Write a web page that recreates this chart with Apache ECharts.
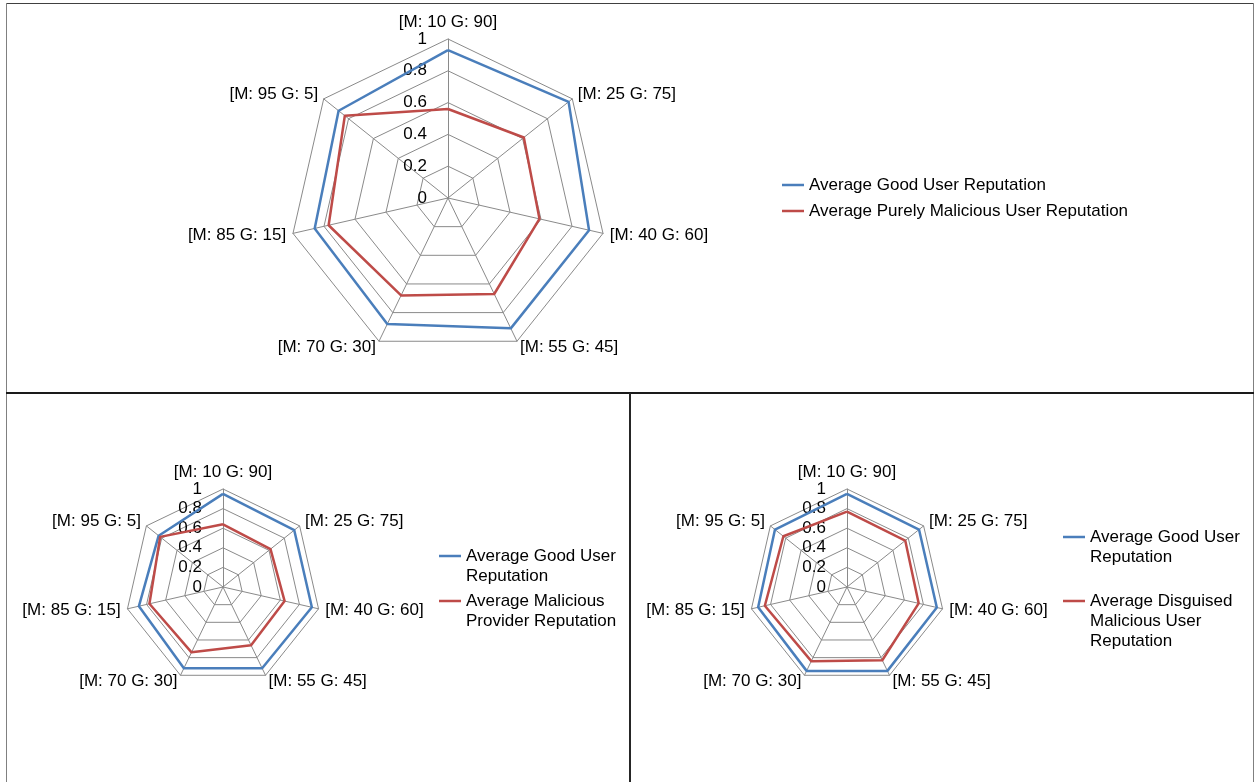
<!DOCTYPE html>
<html>
<head>
<meta charset="utf-8">
<script src="https://cdn.jsdelivr.net/npm/echarts@6/dist/echarts.min.js"></script>
<style>
  html, body { margin: 0; padding: 0; background: #fff; }
  #chart { width: 1254px; height: 782px; }
</style>
</head>
<body>
<div id="chart"></div>
<script>
// Mix of malicious (M) and good (G) users per scenario, clockwise from the top
const categories = ['[M: 10 G: 90]', '[M: 25 G: 75]', '[M: 40 G: 60]', '[M: 55 G: 45]',
                    '[M: 70 G: 30]', '[M: 85 G: 15]', '[M: 95 G: 5]'];
const tickValues = [0, 0.2, 0.4, 0.6, 0.8, 1];

// Panel 1: good users vs purely malicious users
const goodVsPurely = [0.93, 0.97, 0.91, 0.91, 0.88, 0.86, 0.88];
const purelyMalicious = [0.56, 0.61, 0.59, 0.67, 0.68, 0.77, 0.83];

// Panel 2: good users vs malicious providers
const goodVsProvider = [0.95, 0.93, 0.93, 0.92, 0.92, 0.88, 0.84];
const maliciousProvider = [0.64, 0.62, 0.645, 0.66, 0.74, 0.77, 0.82];

// Panel 3: good users vs disguised malicious users
const goodVsDisguised = [0.95, 0.94, 0.94, 0.95, 0.95, 0.93, 0.94];
const disguisedMalicious = [0.77, 0.76, 0.75, 0.83, 0.84, 0.86, 0.83];

const GOOD = 'Average Good User Reputation';
const PURELY = 'Average Purely Malicious User Reputation';
const PROVIDER = 'Average Malicious Provider Reputation';
const DISGUISED = 'Average Disguised Malicious User Reputation';

const BLUE = '#4a7ebb';
const RED = '#be4b48';
const GRID = '#8a8a8a';
const FONT = '"Liberation Sans", Arial, sans-serif';
const FS = 17;
const LH = 20;

// ECharts places radar indicators counter-clockwise; flip the tail so they run clockwise.
function cw(arr) { return [arr[0]].concat(arr.slice(1).reverse()); }

function radarAt(cx, cy, r) {
  const max = tickValues[tickValues.length - 1];
  return {
    center: [cx, cy],
    radius: r,
    startAngle: 90,
    shape: 'polygon',
    splitNumber: tickValues.length - 1,
    indicator: cw(categories).map((name, i) => (
      i === 0 ? { name, min: 0, max, axisLabel: { show: true } } : { name, min: 0, max }
    )),
    axisName: { color: '#000', fontSize: FS, fontFamily: FONT },
    axisNameGap: 7,
    axisLine: { lineStyle: { color: GRID, width: 1 } },
    splitLine: { lineStyle: { color: GRID, width: 1 } },
    splitArea: { show: false },
    axisTick: { show: false },
    axisLabel: { show: false, color: '#000', fontSize: FS, fontFamily: FONT, margin: 21 }
  };
}

function radarSeries(radarIndex, name, values, color) {
  return {
    type: 'radar',
    radarIndex,
    symbol: 'none',
    silent: true,
    lineStyle: { color, width: 2.5 },
    itemStyle: { color },
    data: [{ name, value: cw(values) }]
  };
}

// One legend per entry so the swatch sits level with the first text line.
function legendEntry(name, lines, color, textX, iconY) {
  const h = lines.length * LH;
  const icon = 'path://M0,0L0,0M0,' + (LH / 2 - 1.25) + 'H22V' + (LH / 2 + 1.25) +
               'H0ZM0,' + h + 'L0,' + h;
  return {
    left: textX - 27,
    top: iconY - LH / 2,
    padding: 0,
    orient: 'vertical',
    itemWidth: 22,
    itemHeight: h,
    icon,
    selectedMode: false,
    data: [{ name, itemStyle: { color, borderWidth: 0, borderColor: 'transparent' } }],
    formatter: () => lines.join('\n'),
    textStyle: { color: '#000', fontSize: FS, fontFamily: FONT, lineHeight: LH }
  };
}

const chart = echarts.init(document.getElementById('chart'), null, { renderer: 'canvas' });

chart.setOption({
  backgroundColor: '#fff',
  animation: false,
  textStyle: { fontFamily: FONT },
  radar: [
    radarAt(448, 198, 159),
    radarAt(223, 587, 98),
    radarAt(847, 587, 98)
  ],
  series: [
    radarSeries(0, GOOD, goodVsPurely, BLUE),
    radarSeries(0, PURELY, purelyMalicious, RED),
    radarSeries(1, GOOD, goodVsProvider, BLUE),
    radarSeries(1, PROVIDER, maliciousProvider, RED),
    radarSeries(2, GOOD, goodVsDisguised, BLUE),
    radarSeries(2, DISGUISED, disguisedMalicious, RED)
  ],
  legend: [
    legendEntry(GOOD, [GOOD], BLUE, 809, 185),
    legendEntry(PURELY, [PURELY], RED, 809, 211),
    legendEntry(GOOD, ['Average Good User', 'Reputation'], BLUE, 466, 556),
    legendEntry(PROVIDER, ['Average Malicious', 'Provider Reputation'], RED, 466, 601),
    legendEntry(GOOD, ['Average Good User', 'Reputation'], BLUE, 1090, 537),
    legendEntry(DISGUISED, ['Average Disguised', 'Malicious User', 'Reputation'], RED, 1090, 601)
  ],
  graphic: [
    // panel frame and dividers
    { type: 'line', silent: true, shape: { x1: 6, y1: 3.5, x2: 1254, y2: 3.5 }, style: { stroke: '#404040', lineWidth: 1 } },
    { type: 'line', silent: true, shape: { x1: 6.5, y1: 3, x2: 6.5, y2: 782 }, style: { stroke: '#808080', lineWidth: 1 } },
    { type: 'line', silent: true, shape: { x1: 1253.5, y1: 3, x2: 1253.5, y2: 782 }, style: { stroke: '#808080', lineWidth: 1 } },
    { type: 'line', silent: true, shape: { x1: 6, y1: 393, x2: 1254, y2: 393 }, style: { stroke: '#1a1a1a', lineWidth: 2 } },
    { type: 'line', silent: true, shape: { x1: 630, y1: 393, x2: 630, y2: 782 }, style: { stroke: '#262626', lineWidth: 2 } }
  ]
});
</script>
</body>
</html>
